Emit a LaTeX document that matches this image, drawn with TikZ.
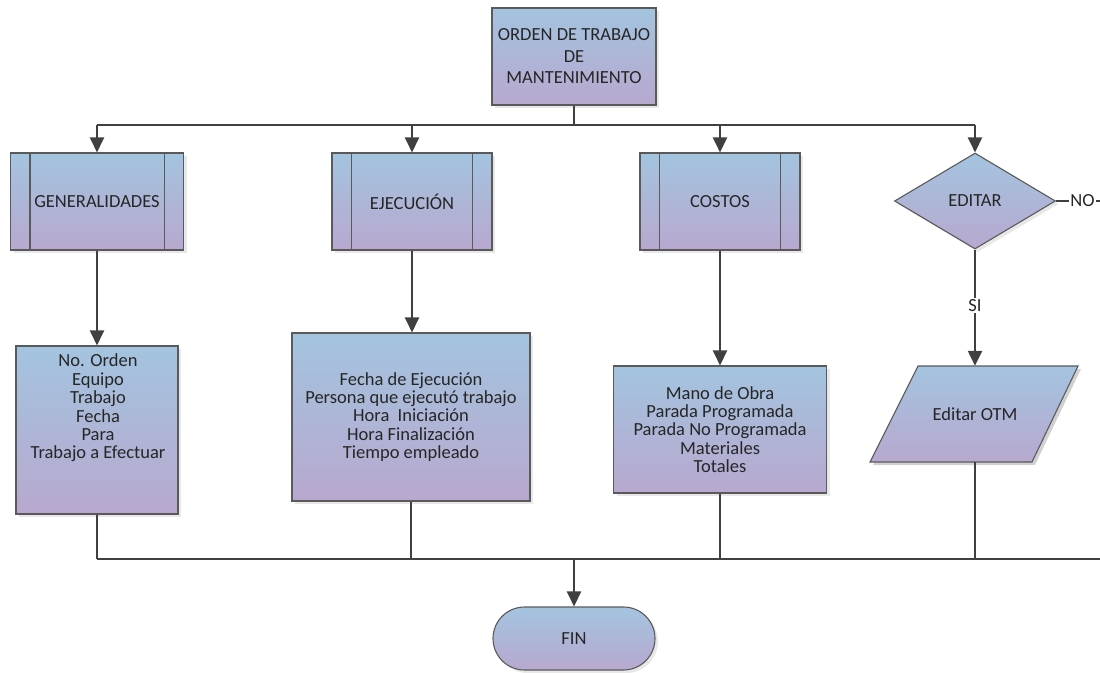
\documentclass[tikz,border=0pt]{standalone}
\usepackage{fontspec}
\setmainfont{Carlito}
\usetikzlibrary{shapes.geometric,shapes.misc,arrows.meta,shadows}
\definecolor{topc}{HTML}{A3C4DF}
\definecolor{botc}{HTML}{B8A8CF}
\definecolor{edge}{HTML}{5A5A5A}
\definecolor{conn}{HTML}{404040}
\definecolor{txt}{HTML}{262626}
\begin{document}
\begin{tikzpicture}[x=1pt,y=-1pt,
  font=\fontsize{18.5}{18.4}\selectfont, text=txt,
  shd/.style={top color=topc, bottom color=botc, draw=edge, line width=1.1pt,
    drop shadow={opacity=0.18, shadow xshift=3pt, shadow yshift=-3pt}},
  boxn/.style={shd, rectangle, inner sep=0pt, align=center},
  conn/.style={draw=conn, line width=2.4pt},
  thinconn/.style={draw=conn, line width=1.8pt},
  arr/.style={conn, -{Triangle[length=15pt,width=14pt]}},
  lbl/.style={fill=white, inner sep=1.5pt}
]
\useasboundingbox (0,0) rectangle (1100,672);

% top
\node[boxn, minimum width=164pt, minimum height=97pt,
  font=\fontsize{18.5}{21.5}\selectfont] (top) at (574,56.5)
  {ORDEN DE TRABAJO\\DE\\MANTENIMIENTO};

% subprocess boxes
\node[boxn, minimum width=173pt, minimum height=97pt] (gen) at (97,201.5) {GENERALIDADES};
\node[boxn, minimum width=160pt, minimum height=97pt] (eje) at (412,201.5) {EJECUCIÓN};
\node[boxn, minimum width=160pt, minimum height=97pt] (cos) at (720,201.5) {COSTOS};
\foreach \n in {gen,eje,cos}{
  \draw[edge, line width=1.1pt] ([xshift=20pt]\n.north west) -- ([xshift=20pt]\n.south west);
  \draw[edge, line width=1.1pt] ([xshift=-20pt]\n.north east) -- ([xshift=-20pt]\n.south east);
}

% decision
\node[shd, diamond, minimum width=161pt, minimum height=96pt, inner sep=0pt, aspect=1.68] (edi) at (975,201) {EDITAR};

% detail boxes
\node[boxn, minimum width=162pt, minimum height=168pt] (b1) at (97,430) {};
\node[align=center, inner sep=0pt] (b1t) at (98,408)
  {No. Orden\\Equipo\\Trabajo\\Fecha\\Para\\Trabajo a Efectuar};
\node[boxn, minimum width=238pt, minimum height=168pt] (b2) at (411,417)
  {Fecha de Ejecución\\Persona que ejecutó trabajo\\Hora \ Iniciación\\Hora Finalización\\Tiempo empleado};
\node[boxn, minimum width=213pt, minimum height=127pt] (b3) at (720,429.5)
  {Mano de Obra\\Parada Programada\\Parada No Programada\\Materiales\\Totales};

% parallelogram
\fill[black, opacity=0.18] (921,369) -- (1081,369) -- (1035,465) -- (873,465) -- cycle;
\shade[top color=topc, bottom color=botc, draw=edge, line width=1.1pt]
  (918,366) -- (1078,366) -- (1032,462) -- (870,462) -- cycle;
\node[minimum width=160pt, minimum height=96pt, inner sep=0pt] (otm) at (975,414) {Editar OTM};

% FIN
\node[shd, rounded rectangle, minimum width=162pt, minimum height=63pt, inner sep=0pt] (fin) at (574,638.5) {FIN};

% connectors top
\coordinate (bus) at (574,125);
\draw[conn] (top.south) -- (bus);
\draw[conn] (gen.north |- bus) -- (edi.north |- bus);
\draw[arr] (gen.north |- bus) -- (gen.north);
\draw[arr] (eje.north |- bus) -- (eje.north);
\draw[arr] (cos.north |- bus) -- (cos.north);
\draw[arr] (edi.north |- bus) -- (edi.north);

\draw[arr] (gen.south) -- (gen.south |- b1.north);
\draw[arr] (eje.south) -- (eje.south |- b2.north);
\draw[arr] (cos.south) -- (cos.south |- b3.north);
\draw[arr] (edi.south) -- node[lbl, pos=0.48] {SI} (edi.south |- otm.north);

\coordinate (noend) at (1100,201);
\draw[conn, line width=1.8pt] (edi.east) -- node[lbl, pos=0.6] {NO} (noend);

% bottom bus
\coordinate (bbus) at (574,559);
\coordinate (bend) at (1100,559);
\draw[thinconn] (b1.south) -- (b1.south |- bbus);
\draw[thinconn] (b2.south) -- (b2.south |- bbus);
\draw[thinconn] (b3.south) -- (b3.south |- bbus);
\draw[thinconn] (otm.south) -- (otm.south |- bbus);
\draw[conn] (b1.south |- bbus) -- (bend);
\draw[arr] (bbus) -- (fin.north);
\end{tikzpicture}
\end{document}
